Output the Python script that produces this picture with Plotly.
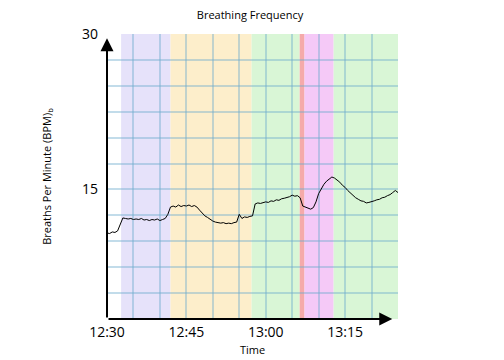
import pandas as pd
import plotly.graph_objects as go

# breathing rate sampled every 30 s from 12:30 to 13:25
times = pd.date_range("2020-01-01 12:30:00", "2020-01-01 13:25:00", freq="30s")
bpm = [
    10.8, 10.75, 10.9, 10.85, 11.0, 11.7, 12.25, 12.2, 12.15, 12.2,
    12.1, 12.15, 12.1, 12.2, 12.05, 12.1, 12.0, 12.1, 12.05, 12.15,
    12.0, 12.1, 12.2, 12.6, 13.3, 13.4, 13.3, 13.5, 13.35, 13.45,
    13.4, 13.5, 13.35, 13.45, 13.3, 13.0, 12.7, 12.45, 12.3, 12.1,
    11.95, 11.85, 11.8, 11.75, 11.8, 11.7, 11.75, 11.7, 11.8, 11.85,
    12.6, 12.2, 12.35, 12.3, 12.4, 12.45, 13.6, 13.7, 13.65, 13.75,
    13.8, 13.75, 13.9, 13.85, 14.0, 13.95, 14.1, 14.15, 14.2, 14.3,
    14.45, 14.35, 14.4, 14.2, 13.4, 13.3, 13.2, 13.1, 13.25, 13.8,
    14.6, 15.1, 15.5, 15.8, 16.05, 16.2, 16.1, 15.9, 15.7, 15.4,
    15.2, 14.9, 14.65, 14.4, 14.2, 14.05, 13.9, 13.85, 13.7, 13.75,
    13.8, 13.9, 14.0, 14.05, 14.2, 14.25, 14.4, 14.5, 14.7, 14.9,
    14.7,
]

# activity bands behind the trace
band_starts = ["12:32:40", "12:42:00", "12:57:20", "13:06:25", "13:07:20", "13:12:50"]
band_ends = ["12:42:00", "12:57:20", "13:06:25", "13:07:20", "13:12:50", "13:25:00"]
band_colors = ["#e6e2fa", "#fdeecb", "#d9f6d6", "#f5aaaa", "#f5c9f7", "#d9f6d6"]

# grid every 5 min / 2.5 bpm, labels only on some
x_grid = pd.date_range("2020-01-01 12:30:00", "2020-01-01 13:25:00", freq="5min")
x_labels = ["12:30", "", "", "12:45", "", "", "13:00", "", "", "13:15", "", ""]
y_grid = [2.5, 5, 7.5, 10, 12.5, 15, 17.5, 20, 22.5, 25, 27.5, 30]
y_labels = ["", "", "", "", "", "15", "", "", "", "", "", "30"]

day = "2020-01-01 "
fig = go.Figure()

for s, e, c in zip(band_starts, band_ends, band_colors):
    fig.add_shape(type="rect", xref="x", yref="paper", x0=day + s, x1=day + e,
                  y0=0, y1=1, fillcolor=c, line_width=0, layer="below")

fig.add_trace(go.Scatter(x=times, y=bpm, mode="lines",
                         line=dict(color="black", width=1), showlegend=False))

# axis arrows
fig.add_annotation(x=day + "13:23:55", y=2.5, ax=day + "12:30:00", ay=2.5,
                   xref="x", yref="y", axref="x", ayref="y", text="",
                   showarrow=True, arrowhead=2, arrowsize=1.3, arrowwidth=2,
                   arrowcolor="black")
fig.add_annotation(x=day + "12:30:00", y=29.6, ax=day + "12:30:00", ay=2.5,
                   xref="x", yref="y", axref="x", ayref="y", text="",
                   showarrow=True, arrowhead=2, arrowsize=1.3, arrowwidth=2,
                   arrowcolor="black")

grid_color = "rgba(110,172,205,0.42)"
fig.update_xaxes(range=[day + "12:30:00", day + "13:25:00"],
                 tickmode="array", tickvals=x_grid, ticktext=x_labels,
                 showgrid=True, gridcolor=grid_color, gridwidth=1.7,
                 zeroline=False, showline=False, automargin=False,
                 ticklabelstandoff=3,
                 title=dict(text="Time", font=dict(size=11), standoff=6),
                 tickfont=dict(size=14))
fig.update_yaxes(range=[2.5, 30], tickmode="array", tickvals=y_grid,
                 ticktext=y_labels, showgrid=True, gridcolor=grid_color,
                 gridwidth=1.7, zeroline=False, showline=False, automargin=False,
                 ticklabelstandoff=8,
                 title=dict(text="Breaths Per Minute (BPM)<sub>b</sub>",
                            font=dict(size=11), standoff=28),
                 tickfont=dict(size=14))

# page body adds an 8px margin, so the figure is drawn 8px smaller
fig.update_layout(
    width=496, height=352,
    margin=dict(l=99, r=106, t=26, b=41),
    plot_bgcolor="white", paper_bgcolor="white",
    font=dict(family="Open Sans", color="black"),
    title=dict(text="Breathing Frequency", font=dict(size=11),
               x=0.488, xanchor="center", y=0.98, yanchor="middle"),
)

fig.write_html("out.html")
